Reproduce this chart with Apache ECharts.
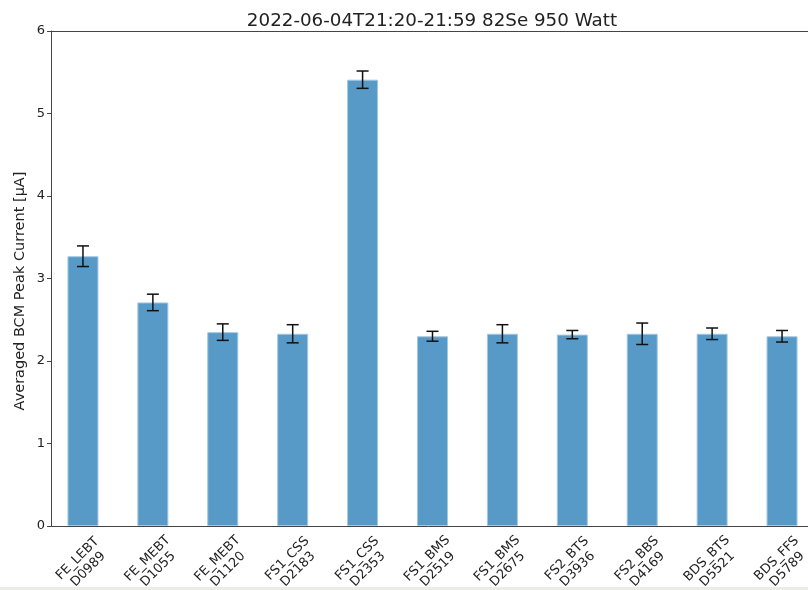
<!DOCTYPE html>
<html>
<head>
<meta charset="utf-8">
<script src="https://cdn.jsdelivr.net/npm/echarts@6/dist/echarts.min.js"></script>
<style>
  html, body { margin: 0; padding: 0; background: #fff; }
  #chart { width: 808px; height: 590px; }
</style>
</head>
<body>
<div id="chart"></div>
<script>
// BCM monitors along the linac
const monitors = [
  'FE_LEBT\nD0989', 'FE_MEBT\nD1055', 'FE_MEBT\nD1120', 'FS1_CSS\nD2183',
  'FS1_CSS\nD2353', 'FS1_BMS\nD2519', 'FS1_BMS\nD2675', 'FS2_BTS\nD3936',
  'FS2_BBS\nD4169', 'BDS_BTS\nD5521', 'BDS_FFS\nD5789'
];
// averaged peak current [uA]
const peakCurrent = [3.27, 2.71, 2.35, 2.33, 5.41, 2.30, 2.33, 2.32, 2.33, 2.33, 2.30];
// standard deviation [uA]
const currentStd = [0.125, 0.10, 0.10, 0.11, 0.105, 0.06, 0.11, 0.05, 0.13, 0.07, 0.07];
const yTicks = [0, 1, 2, 3, 4, 5, 6];

const FONT = 'DejaVu Sans';
const SPINE = '#444';
const chart = echarts.init(document.getElementById('chart'), null, { renderer: 'canvas' });

const errData = peakCurrent.map((v, i) => [i, v - currentStd[i], v + currentStd[i]]);

chart.setOption({
  animation: false,
  backgroundColor: '#ffffff',
  title: {
    text: '2022-06-04T21:20-21:59 82Se 950 Watt',
    left: 427, top: 7, textAlign: 'center',
    textStyle: { fontFamily: FONT, fontSize: 18.3, fontWeight: 'normal', color: '#222' }
  },
  grid: {
    left: 48, top: 31, width: 769, height: 495,
    containLabel: false, outerBoundsMode: 'none', show: false
  },
  xAxis: [
    {
      type: 'category',
      data: monitors,
      boundaryGap: true,
      axisLine: { lineStyle: { color: SPINE, width: 1 } },
      axisTick: { alignWithLabel: true, length: 4, lineStyle: { color: SPINE } },
      axisLabel: {
        interval: 0, rotate: 45, margin: 38,
        fontFamily: FONT, fontSize: 13, color: '#222', lineHeight: 15,
        align: 'center', verticalAlign: 'middle'
      }
    },
    {
      // upper frame line of the plot area
      type: 'category',
      position: 'top',
      data: monitors,
      axisLine: { show: true, lineStyle: { color: SPINE, width: 1 } },
      axisTick: { show: false },
      axisLabel: { show: false }
    }
  ],
  yAxis: {
    type: 'value',
    min: yTicks[0], max: yTicks[yTicks.length - 1], interval: 1,
    offset: -3,
    axisLine: { show: true, lineStyle: { color: SPINE, width: 1 } },
    axisTick: { show: true, length: 4, lineStyle: { color: SPINE } },
    axisLabel: { fontFamily: FONT, fontSize: 13, color: '#222', margin: 6 },
    splitLine: { show: false }
  },
  series: [
    {
      type: 'bar',
      data: peakCurrent,
      barWidth: 31,
      itemStyle: { color: '#5799c7', borderColor: '#a3c8e3', borderWidth: 1 }
    },
    {
      type: 'custom',
      data: errData,
      z: 5,
      renderItem: function (params, api) {
        const x = api.value(0);
        const lo = api.coord([x, api.value(1)]);
        const hi = api.coord([x, api.value(2)]);
        const cap = 6;
        const style = { stroke: '#111', lineWidth: 1.5 };
        return {
          type: 'group',
          children: [
            { type: 'line', shape: { x1: hi[0], y1: hi[1], x2: lo[0], y2: lo[1] }, style: style },
            { type: 'line', shape: { x1: hi[0] - cap, y1: hi[1], x2: hi[0] + cap, y2: hi[1] }, style: style },
            { type: 'line', shape: { x1: lo[0] - cap, y1: lo[1], x2: lo[0] + cap, y2: lo[1] }, style: style }
          ]
        };
      }
    }
  ],
  graphic: [
    {
      type: 'text',
      x: 20, y: 291, rotation: Math.PI / 2,
      style: {
        text: 'Averaged BCM Peak Current [\u03bcA]',
        fontFamily: FONT, fontSize: 14.5, fill: '#222',
        align: 'center', verticalAlign: 'middle'
      }
    },
    { type: 'rect', left: 0, top: 587, shape: { width: 808, height: 3 }, style: { fill: '#ececE6' }, z: 100 }
  ]
});
</script>
</body>
</html>
